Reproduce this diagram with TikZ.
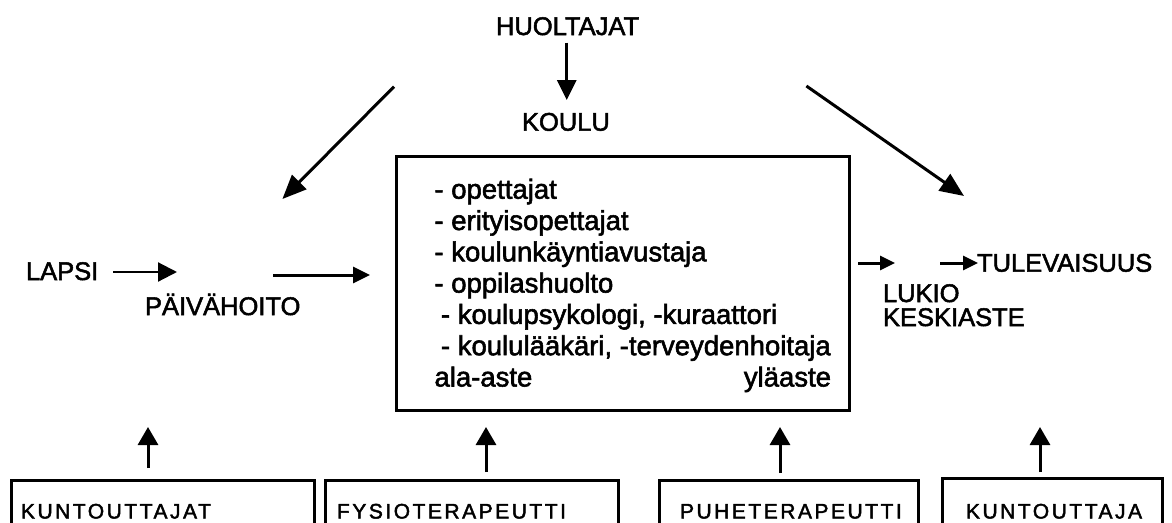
\documentclass[tikz,border=0pt]{standalone}
\usepackage{fontspec}
\setmainfont{Liberation Sans}
\newfontfamily\mainfont[FakeBold=2]{Liberation Sans}
\newfontfamily\boxfont[LetterSpace=12,FakeBold=2]{Liberation Sans}
\usetikzlibrary{arrows.meta}
\begin{document}
\begin{tikzpicture}[x=1pt,y=-1pt,
  lbl/.style={inner sep=0pt, outer sep=0pt, anchor=base west, font=\mainfont\fontsize{25.5}{30}\selectfont},
  inl/.style={inner sep=0pt, outer sep=0pt, anchor=base west, font=\mainfont\fontsize{27.5}{31}\selectfont},
  btxt/.style={inner sep=0pt, outer sep=0pt, anchor=base west, font=\boxfont\fontsize{21}{25}\selectfont},
  arr/.style={line width=3pt, -{Triangle[length=20pt,width=19pt]}},
  darr/.style={line width=3pt, -{Triangle[length=24pt,width=20pt]}},
  sarr/.style={line width=3pt, -{Triangle[length=15pt,width=14pt]}},
  bbox/.style={draw, line width=3pt, anchor=north west, minimum height=80pt, inner sep=0pt, outer sep=0pt},
]
\useasboundingbox (0,0) rectangle (1172,522);
\clip (0,0) rectangle (1172,522);
\fill[white] (0,0) rectangle (1172,522);

% top labels
\node[lbl] (huoltajat) at (496,35) {HUOLTAJAT};
\node[lbl] (koulu) at (522,130.7) {KOULU};
\node[lbl] (lapsi) at (26,280) {LAPSI};
\node[lbl] (paivahoito) at (145,315) {PÄIVÄHOITO};
\node[lbl] (tulevaisuus) at (977,271.7) {TULEVAISUUS};
\node[lbl] (lukio) at (883,302) {LUKIO};
\node[lbl] (keskiaste) at (883,326) {KESKIASTE};

% main box
\node[draw, line width=3pt, anchor=north west, minimum width=453pt, minimum height=254.7pt, inner sep=0pt, outer sep=0pt] (koulubox) at (396,156) {};
\node[inl] (l1) at (434.5,198.7) {- opettajat};
\node[inl] (l2) at (434.5,230) {- erityisopettajat};
\node[inl] (l3) at (434.5,261.3) {- koulunkäyntiavustaja};
\node[inl] (l4) at (434.5,292.6) {- oppilashuolto};
\node[inl] (l5) at (441,323.9) {- koulupsykologi, -kuraattori};
\node[inl] (l6) at (441,355.2) {- koululääkäri, -terveydenhoitaja};
\node[inl] (l7a) at (434.5,386.5) {ala-aste};
\node[inl, anchor=base east] (l7b) at (831,386.5) {yläaste};

% bottom boxes
\node[bbox, minimum width=302.3pt] (b1) at (11.7,480) {};
\node[bbox, minimum width=293pt] (b2) at (325,480) {};
\node[bbox, minimum width=259pt] (b3) at (659,480) {};
\node[bbox, minimum width=220pt] (b4) at (942,478) {};
\node[btxt] (t1) at (21,518.5) {KUNTOUTTAJAT};
\node[btxt] (t2) at (337,518.5) {FYSIOTERAPEUTTI};
\node[btxt] (t3) at (680,518.5) {PUHETERAPEUTTI};
\node[btxt] (t4) at (966,518.5) {KUNTOUTTAJA};

% connector ends
\coordinate (hA) at (566.7,42.7);  \coordinate (hB) at (566.7,100);
\coordinate (dlA) at (394,86.7);   \coordinate (dlB) at (282.4,199);
\coordinate (drA) at (806.4,86);   \coordinate (drB) at (964,196);
\coordinate (lpA) at (113,272);    \coordinate (lpB) at (177,272);
\coordinate (phA) at (273,275);    \coordinate (phB) at (370,275);
\coordinate (kbA) at (858,263);    \coordinate (kbB) at (895,263);
\coordinate (tuA) at (940,263);    \coordinate (tuB) at (978,263);
\coordinate (u1A) at (148,468);    \coordinate (u1B) at (148,427);
\coordinate (u2A) at (486,472);    \coordinate (u2B) at (486,427);
\coordinate (u3A) at (780,473);    \coordinate (u3B) at (780,427);
\coordinate (u4A) at (1040,472);   \coordinate (u4B) at (1040,427);

\draw[arr] (hA) -- (hB);
\draw[darr] (dlA) -- (dlB);
\draw[darr] (drA) -- (drB);
\draw[line width=2.2pt, -{Triangle[length=19pt,width=19pt]}] (lpA) -- (lpB);
\draw[arr, -{Triangle[length=17pt,width=16pt]}] (phA) -- (phB);
\draw[sarr] (kbA) -- (kbB);
\draw[sarr] (tuA) -- (tuB);
\draw[arr, -{Triangle[length=18pt,width=20pt]}] (u1A) -- (u1B);
\draw[arr, -{Triangle[length=18pt,width=20pt]}] (u2A) -- (u2B);
\draw[arr, -{Triangle[length=18pt,width=20pt]}] (u3A) -- (u3B);
\draw[arr, -{Triangle[length=18pt,width=20pt]}] (u4A) -- (u4B);
\end{tikzpicture}
\end{document}
